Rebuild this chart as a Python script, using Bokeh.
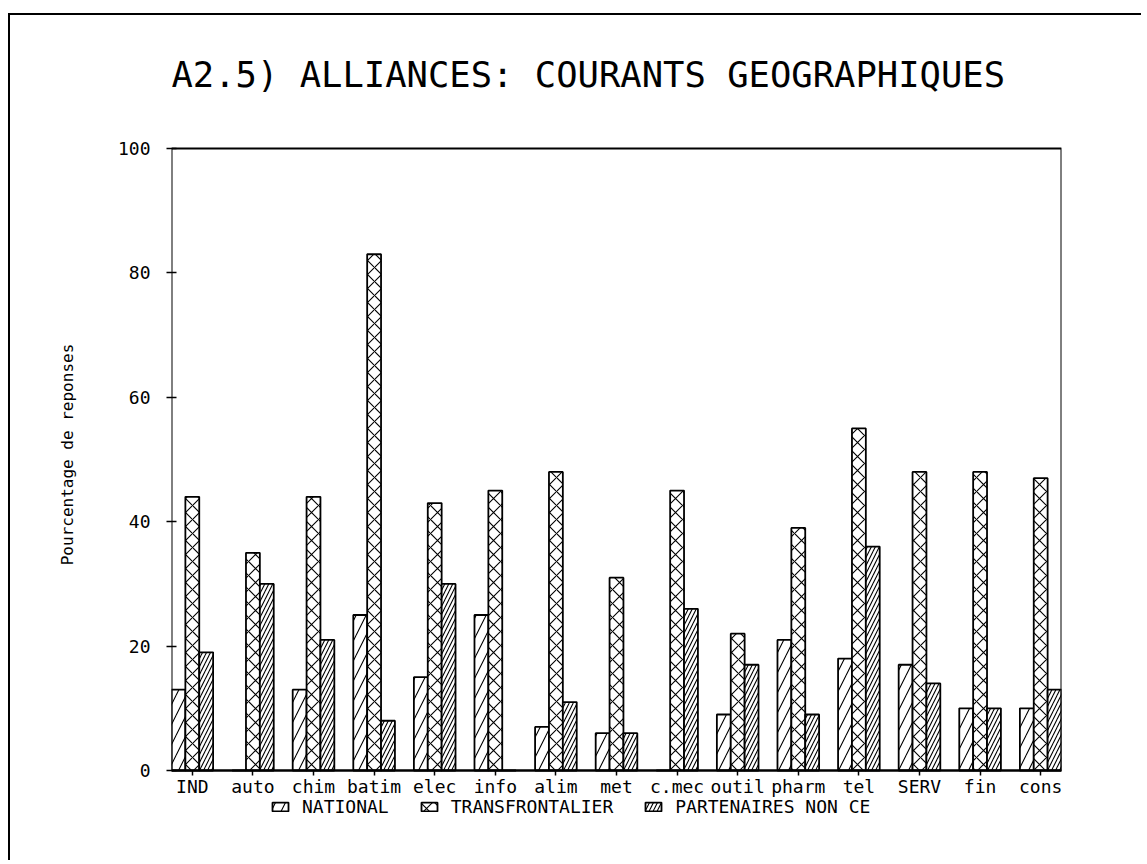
from bokeh.plotting import figure
from bokeh.models import (Range1d, FixedTicker, Legend, LegendItem, ColumnDataSource,
                          BoxAnnotation, Label)
from bokeh.transform import dodge
from bokeh.embed import file_html
from bokeh.resources import INLINE

categories = ["IND", "auto", "chim", "batim", "elec", "info", "alim", "met",
              "c.mec", "outil", "pharm", "tel", "SERV", "fin", "cons"]
national = [13, 0, 13, 25, 15, 25, 7, 6, 0, 9, 21, 18, 17, 10, 10]
transfrontalier = [44, 35, 44, 83, 43, 45, 48, 31, 45, 22, 39, 55, 48, 48, 47]
partenaires = [19, 30, 21, 8, 30, 0, 11, 6, 26, 17, 9, 36, 14, 10, 13]
y_ticks = [0, 20, 40, 60, 80, 100]
series_labels = ["NATIONAL", "TRANSFRONTALIER", "PARTENAIRES NON CE"]
title_text = "A2.5) ALLIANCES: COURANTS GEOGRAPHIQUES"
y_label = "Pourcentage de reponses"

FONT = "DejaVu Sans Mono"
W = 0.229            # bar width in category units
FRAME_W = 890
PX_PER_UNIT = 6.22   # vertical pixels per percentage point
TOP_PX = 100         # room above 100 for the title
BOTTOM_PX = 90       # room under 0 for the labels and legend
Y_MIN = -BOTTOM_PX / PX_PER_UNIT
Y_MAX = 100 + TOP_PX / PX_PER_UNIT
FRAME_H = int(round((Y_MAX - Y_MIN) * PX_PER_UNIT))

idx = list(range(len(categories)))
src = ColumnDataSource(dict(x=idx, nat=national, tra=transfrontalier, par=partenaires))
x_start = -1.5 * W

p = figure(frame_width=FRAME_W, frame_height=FRAME_H,
           x_range=Range1d(x_start, len(categories) - 1 + 1.5 * W),
           y_range=Range1d(Y_MIN, Y_MAX),
           output_backend="svg", toolbar_location=None,
           min_border_left=161, min_border_right=80,
           min_border_top=33, min_border_bottom=0)
p.styles = {"border-left": "2px solid black", "border-top": "2px solid black",
            "margin-top": "13px", "margin-left": "8px"}

common = dict(width=W, line_color="black", line_width=1.8, fill_color="white",
              hatch_color="black", source=src)
r1 = p.vbar(x=dodge("x", -W, range=p.x_range), top="nat",
            hatch_pattern="/", hatch_scale=20, hatch_weight=1.1, **common)
r2 = p.vbar(x=dodge("x", 0, range=p.x_range), top="tra",
            hatch_pattern="x", hatch_scale=14, hatch_weight=1.1, **common)
r3 = p.vbar(x=dodge("x", W, range=p.x_range), top="par",
            hatch_pattern="/", hatch_scale=8, hatch_weight=1.1, **common)

p.grid.visible = False
p.outline_line_color = None
# plotting box from 0 to 100 (the frame itself reaches further to hold title and legend)
p.add_layout(BoxAnnotation(bottom=0, top=100, fill_alpha=0,
                           line_color="black", line_width=2, line_alpha=1))

p.add_layout(Label(x=x_start, y=100 + 74 / PX_PER_UNIT, text=title_text,
                   text_font=FONT, text_font_size="35.5px", text_color="black",
                   text_baseline="alphabetic", text_align="left"))

xa = p.xaxis[0]
xa.fixed_location = 0
xa.ticker = FixedTicker(ticks=idx)
xa.major_label_overrides = {i: c for i, c in zip(idx, categories)}
xa.major_label_text_font = FONT
xa.major_label_text_font_size = "18px"
xa.major_label_text_color = "black"
xa.major_tick_out = 5
xa.major_tick_in = 0
xa.minor_tick_line_color = None
xa.axis_line_width = 2
xa.major_tick_line_width = 1.5
xa.major_label_standoff = 0

ya = p.yaxis[0]
ya.ticker = FixedTicker(ticks=y_ticks)
ya.major_label_text_font = FONT
ya.major_label_text_font_size = "18px"
ya.major_label_text_color = "black"
ya.major_tick_out = 5
ya.major_tick_in = 5
ya.minor_tick_line_color = None
ya.axis_line_color = None
ya.major_tick_line_width = 1.5
ya.major_label_standoff = 16
ya.axis_label = y_label
ya.axis_label_text_font = FONT
ya.axis_label_text_font_size = "16px"
ya.axis_label_text_font_style = "normal"
ya.axis_label_text_color = "black"
ya.axis_label_standoff = 38

legend = Legend(items=[LegendItem(label=series_labels[0], renderers=[r1]),
                       LegendItem(label=series_labels[1], renderers=[r2]),
                       LegendItem(label=series_labels[2], renderers=[r3])],
                orientation="horizontal", location=(99, 43),
                padding=0, margin=0, spacing=30,
                glyph_width=20, glyph_height=11, label_standoff=12,
                label_text_font=FONT, label_text_font_size="18px",
                label_text_color="black",
                border_line_color=None, background_fill_alpha=0)
p.add_layout(legend, "center")

open("out.html", "w").write(file_html(p, INLINE))
